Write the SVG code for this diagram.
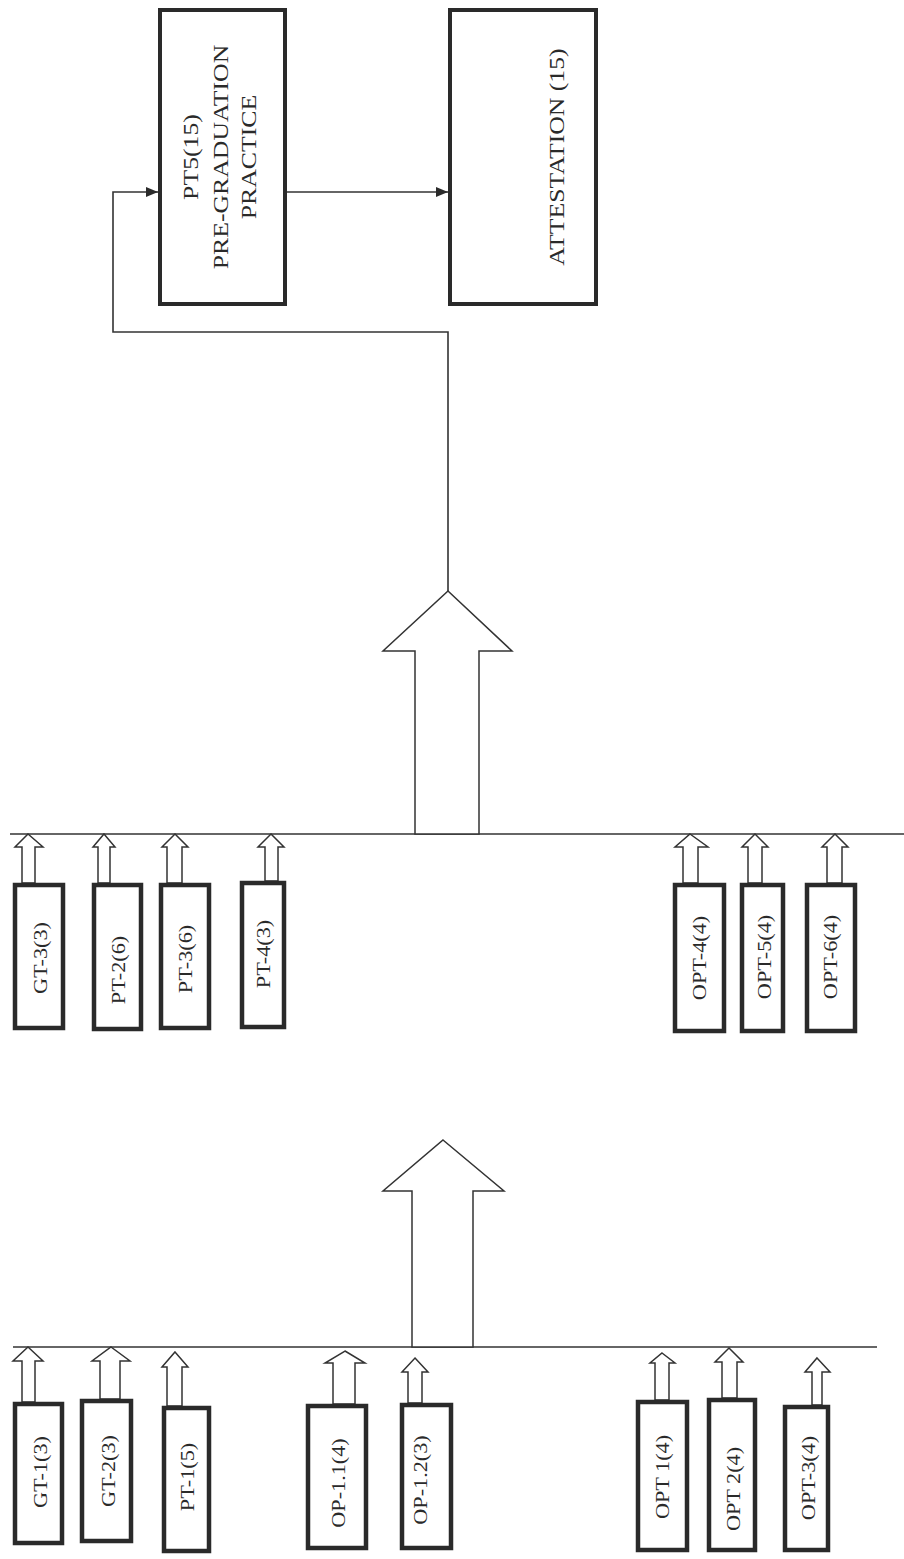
<svg xmlns="http://www.w3.org/2000/svg" width="904" height="1559" viewBox="0 0 904 1559">
<style>
.box{fill:#fff;stroke:#2a2a2a;stroke-width:4.5}
.big{fill:#fff;stroke:#2a2a2a;stroke-width:4}
.ln{fill:none;stroke:#333;stroke-width:1.6}
.ar{fill:#fff;stroke:#333;stroke-width:1.5;stroke-linejoin:miter}
.t{font-family:"Liberation Serif","Times New Roman",serif;font-size:19px;fill:#2a2a2a;text-anchor:middle}
.tb{font-family:"Liberation Serif","Times New Roman",serif;font-size:22px;fill:#2a2a2a;text-anchor:middle}
</style>
<defs>
<marker id="ah" viewBox="0 0 12 10" refX="12" refY="5" markerWidth="12" markerHeight="10" markerUnits="userSpaceOnUse" orient="auto">
<path d="M0,0 L12,5 L0,10 Z" fill="#2a2a2a"/>
</marker>
</defs>
<rect width="904" height="1559" fill="#fff"/>

<g id="connectors">
<line class="ln" x1="10" y1="834" x2="904" y2="834"/>
<line class="ln" x1="13" y1="1347" x2="877" y2="1347"/>
<polygon class="ar" points="448,591 512,651 479,651 479,834 415,834 415,651 383,651"/>
<polygon class="ar" points="443,1140 504,1191 473,1191 473,1347 412,1347 412,1191 383,1191"/>
<polyline class="ln" points="448,591 448,332 113,332 113,192 158,192" marker-end="url(#ah)"/>
<line class="ln" x1="287" y1="192" x2="448" y2="192" marker-end="url(#ah)"/>
<!-- middle small arrows -->
<polygon class="ar" points="28,834 43,847 35,847 35,883 22,883 22,847 15,847"/>
<polygon class="ar" points="104,834 115,847 110,847 110,883 98,883 98,847 93,847"/>
<polygon class="ar" points="175,834 188,847 182,847 182,883 167,883 167,847 162,847"/>
<polygon class="ar" points="271,834 284,847 278,847 278,881 265,881 265,847 258,847"/>
<polygon class="ar" points="690,834 708,847 698,847 698,883 683,883 683,847 675,847"/>
<polygon class="ar" points="755,834 768,847 762,847 762,883 748,883 748,847 742,847"/>
<polygon class="ar" points="835,834 848,847 842,847 842,883 827,883 827,847 822,847"/>
<!-- bottom small arrows -->
<polygon class="ar" points="28,1347 43,1361 35,1361 35,1402 22,1402 22,1361 13,1361"/>
<polygon class="ar" points="111,1347 130,1361 120,1361 120,1399 100,1399 100,1361 92,1361"/>
<polygon class="ar" points="175,1352 188,1367 182,1367 182,1406 167,1406 167,1367 162,1367"/>
<polygon class="ar" points="345,1351 365,1363 355,1363 355,1404 333,1404 333,1363 325,1363"/>
<polygon class="ar" points="415,1358 428,1372 422,1372 422,1403 408,1403 408,1372 402,1372"/>
<polygon class="ar" points="662,1353 675,1363 669,1363 669,1400 655,1400 655,1363 650,1363"/>
<polygon class="ar" points="729,1348 743,1362 737,1362 737,1398 722,1398 722,1362 715,1362"/>
<polygon class="ar" points="817,1358 830,1372 822,1372 822,1405 812,1405 812,1372 805,1372"/>
</g>

<g id="pt5">
<rect class="big" x="160" y="10" width="125" height="294"/>
<text class="tb" transform="translate(190,157) rotate(-90) scale(1.17,1)" dy="0.35em">PT5(15)</text>
<text class="tb" transform="translate(220,157) rotate(-90) scale(1.17,1)" dy="0.35em">PRE-GRADUATION</text>
<text class="tb" transform="translate(248,157) rotate(-90) scale(1.17,1)" dy="0.35em">PRACTICE</text>
</g>
<g id="attestation">
<rect class="big" x="450" y="10" width="146" height="294"/>
<text class="tb" transform="translate(556,157) rotate(-90) scale(1.17,1)" dy="0.35em">ATTESTATION (15)</text>
</g>

<g id="gt3"><rect class="box" x="15" y="885" width="48" height="143"/><text class="t" transform="translate(40,958) rotate(-90) scale(1.17,1)" dy="0.35em">GT-3(3)</text></g>
<g id="pt2"><rect class="box" x="94" y="885" width="47" height="144"/><text class="t" transform="translate(118,970) rotate(-90) scale(1.17,1)" dy="0.35em">PT-2(6)</text></g>
<g id="pt3"><rect class="box" x="161" y="885" width="48" height="143"/><text class="t" transform="translate(185,959) rotate(-90) scale(1.17,1)" dy="0.35em">PT-3(6)</text></g>
<g id="pt4"><rect class="box" x="242" y="883" width="42" height="144"/><text class="t" transform="translate(263,954) rotate(-90) scale(1.17,1)" dy="0.35em">PT-4(3)</text></g>
<g id="opt4"><rect class="box" x="675" y="885" width="49" height="146"/><text class="t" transform="translate(699,958) rotate(-90) scale(1.17,1)" dy="0.35em">OPT-4(4)</text></g>
<g id="opt5"><rect class="box" x="742" y="885" width="41" height="146"/><text class="t" transform="translate(764,957) rotate(-90) scale(1.17,1)" dy="0.35em">OPT-5(4)</text></g>
<g id="opt6"><rect class="box" x="807" y="885" width="48" height="146"/><text class="t" transform="translate(830,957) rotate(-90) scale(1.17,1)" dy="0.35em">OPT-6(4)</text></g>

<g id="gt1"><rect class="box" x="15" y="1404" width="47" height="139"/><text class="t" transform="translate(40,1472) rotate(-90) scale(1.17,1)" dy="0.35em">GT-1(3)</text></g>
<g id="gt2"><rect class="box" x="82" y="1401" width="49" height="140"/><text class="t" transform="translate(108,1471) rotate(-90) scale(1.17,1)" dy="0.35em">GT-2(3)</text></g>
<g id="pt1"><rect class="box" x="164" y="1408" width="45" height="143"/><text class="t" transform="translate(187,1477) rotate(-90) scale(1.17,1)" dy="0.35em">PT-1(5)</text></g>
<g id="op11"><rect class="box" x="308" y="1406" width="58" height="142"/><text class="t" transform="translate(338,1483) rotate(-90) scale(1.17,1)" dy="0.35em">OP-1.1(4)</text></g>
<g id="op12"><rect class="box" x="402" y="1405" width="49" height="143"/><text class="t" transform="translate(420,1480) rotate(-90) scale(1.17,1)" dy="0.35em">OP-1.2(3)</text></g>
<g id="opt1"><rect class="box" x="638" y="1402" width="49" height="148"/><text class="t" transform="translate(662,1477) rotate(-90) scale(1.17,1)" dy="0.35em">OPT 1(4)</text></g>
<g id="opt2"><rect class="box" x="709" y="1400" width="46" height="150"/><text class="t" transform="translate(733,1489) rotate(-90) scale(1.17,1)" dy="0.35em">OPT 2(4)</text></g>
<g id="opt3"><rect class="box" x="785" y="1407" width="43" height="143"/><text class="t" transform="translate(808,1478) rotate(-90) scale(1.17,1)" dy="0.35em">OPT-3(4)</text></g>
</svg>
